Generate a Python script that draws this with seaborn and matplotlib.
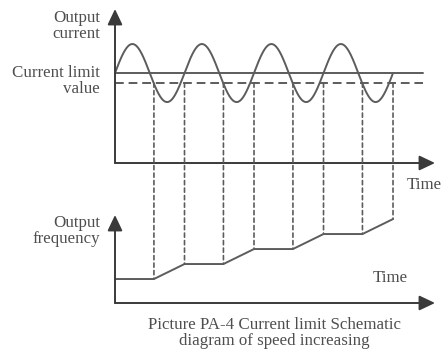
import numpy as np
import pandas as pd
import matplotlib
matplotlib.use("Agg")
import matplotlib.pyplot as plt
import seaborn as sns
from matplotlib.patches import ConnectionPatch

# ---------------- data ----------------
cycles = 4                 # number of current oscillations
current_amplitude = 1.0    # peak of oscillation above the limit
current_limit = 0.0        # solid "current limit value" level
current_lower = -0.345     # dashed lower threshold
limit_line_end = 4.43      # where the limit lines stop (time units)
freq_time = [0.0, 0.56, 1.0, 1.56, 2.0, 2.56, 3.0, 3.56, 4.0]
freq_value = [1.6, 1.6, 2.6, 2.6, 3.6, 3.6, 4.6, 4.6, 5.6]
label_current = "Output\ncurrent"
label_limit = "Current limit\nvalue"
label_freq = "Output\nfrequency"
label_time = "Time"
caption = "Picture PA-4 Current limit Schematic\ndiagram of speed increasing"

# ---------------- style ----------------
sns.set_theme(style="white")
plt.rcParams["font.family"] = ["Liberation Serif", "DejaVu Serif"]
plt.rcParams["font.size"] = 10
LINE = "#5c5c5c"
TEXT = "#4e4e4e"
FS = 12.2

t = np.linspace(0, cycles, 800)
current_df = pd.DataFrame({"time": t,
                           "current": current_limit + current_amplitude * np.sin(2 * np.pi * t)})
freq_df = pd.DataFrame({"time": freq_time, "freq": freq_value})
limit_df = pd.DataFrame({"time": [0.0, limit_line_end],
                         "solid": [current_limit, current_limit],
                         "dashed": [current_lower, current_lower]})

W, H = 442, 350
fig = plt.figure(figsize=(W / 100, H / 100), dpi=100)
fig.patch.set_facecolor("white")

ax1 = fig.add_axes([115 / W, (H - 163) / H, 320 / W, (163 - 9) / H])
ax2 = fig.add_axes([115 / W, (H - 303) / H, 320 / W, (303 - 215) / H])

sns.lineplot(data=current_df, x="time", y="current", ax=ax1, color=LINE, lw=1.4,
             estimator=None, sort=False)
sns.lineplot(data=limit_df, x="time", y="solid", ax=ax1, color=LINE, lw=1.4, estimator=None)
sns.lineplot(data=limit_df, x="time", y="dashed", ax=ax1, color=LINE, lw=1.4,
             estimator=None, linestyle=(0, (4.5, 2.5)))
sns.lineplot(data=freq_df, x="time", y="freq", ax=ax2, color=LINE, lw=1.4,
             estimator=None, sort=False)

ax1.set_xlim(0, 4.604)
ax1.set_ylim(-3.1, 2.207)
ax2.set_xlim(0, 4.604)
ax2.set_ylim(0, 5.87)

for ax in (ax1, ax2):
    ax.set_axis_off()
    arrow = dict(arrowstyle="-|>,head_length=0.95,head_width=0.45", lw=1.4,
                 color="#3a3a3a", shrinkA=0, shrinkB=0)
    ax.annotate("", xy=(1, 0), xytext=(0, 0), xycoords="axes fraction",
                textcoords="axes fraction", arrowprops=arrow, annotation_clip=False)
    ax.annotate("", xy=(0, 1), xytext=(0, 0), xycoords="axes fraction",
                textcoords="axes fraction", arrowprops=arrow, annotation_clip=False)

# vertical dashed links from current threshold to frequency curve
for tt, ff in zip(freq_time[1:], freq_value[1:]):
    con = ConnectionPatch(xyA=(tt, current_lower), coordsA=ax1.transData,
                          xyB=(tt, ff), coordsB=ax2.transData,
                          color=LINE, lw=1.2, linestyle=(0, (2.5, 2.0)),
                          shrinkA=0, shrinkB=0)
    fig.add_artist(con)

tk = dict(color=TEXT, fontsize=FS, linespacing=1.0)
ax1.text(-0.216, 1.62, label_current, ha="right", va="center", multialignment="right", **tk)
ax1.text(-0.216, -0.29, label_limit, ha="right", va="center", multialignment="right", **tk)
ax1.text(4.20, -3.86, label_time, ha="left", va="center", **tk)
ax2.text(-0.216, 4.77, label_freq, ha="right", va="center", multialignment="right", **tk)
ax2.text(3.71, 1.67, label_time, ha="left", va="center", **tk)

fig.text(274 / W, (H - 333) / H, caption, ha="center", va="center",
         multialignment="center", color=TEXT, fontsize=FS, linespacing=1.05)

fig.savefig("out.png", dpi=100, facecolor="white")
